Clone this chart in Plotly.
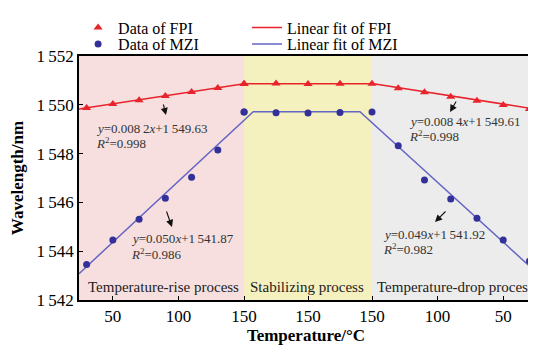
import plotly.graph_objects as go

# ---------------- data ----------------
rise_T = [30, 50, 70, 90, 110, 130, 150]
stab_k = [0, 1, 2, 3, 4]               # stabilizing samples (all at 150 °C)
drop_T = [130, 110, 90, 70, 50, 30]

fpi_rise = [1549.87, 1550.03, 1550.19, 1550.36, 1550.52, 1550.69, 1550.85]
fpi_stab = [1550.86, 1550.87, 1550.85, 1550.86, 1550.86]
fpi_drop = [1550.68, 1550.51, 1550.33, 1550.17, 1549.99, 1549.83]

mzi_rise = [1543.46, 1544.46, 1545.31, 1546.17, 1547.03, 1548.15, 1549.70]
mzi_stab = [1549.70, 1549.67, 1549.66, 1549.68, 1549.71]
mzi_drop = [1548.32, 1546.92, 1546.14, 1545.35, 1544.46, 1543.60]

# linear fits (slope, intercept) and plateau levels
fpi_rise_fit = (0.0082, 1549.63)
fpi_drop_fit = (0.0084, 1549.61)
mzi_rise_fit = (0.050, 1541.87)
mzi_drop_fit = (0.049, 1541.92)
fpi_plateau = 1550.86
mzi_plateau = 1549.72

x_tick_labels = ["50", "100", "150", "150", "150", "100", "50"]
y_ticks = [1542, 1544, 1546, 1548, 1550, 1552]
y_tick_labels = ["1\u2009542", "1\u2009544", "1\u2009546", "1\u2009548", "1\u2009550", "1\u2009552"]

# ---------------- axis mapping (three process stages on one axis) ----------------
STAB_W = 97.5
X_MIN_T, X_MAX_T = 24.2, 27.3      # temperature at left / right plot edges
def u_rise(T): return T
def u_stab(k): return 150 + k * STAB_W / 4
def u_drop(T): return 150 + STAB_W + (150 - T)
x_lo, x_hi = u_rise(X_MIN_T), u_drop(X_MAX_T)

fpi_x = [u_rise(t) for t in rise_T] + [u_stab(k) for k in stab_k] + [u_drop(t) for t in drop_T]
fpi_y = fpi_rise + fpi_stab + fpi_drop
mzi_x = [u_rise(t) for t in rise_T] + [u_stab(k) for k in stab_k] + [u_drop(t) for t in drop_T]
mzi_y = mzi_rise + mzi_stab + mzi_drop

def fit_line(rfit, dfit, plateau):
    a1, b1 = rfit
    a2, b2 = dfit
    t1 = (plateau - b1) / a1
    t2 = (plateau - b2) / a2
    xs = [u_rise(X_MIN_T), u_rise(t1), u_drop(t2), u_drop(X_MAX_T)]
    ys = [a1 * X_MIN_T + b1, plateau, plateau, a2 * X_MAX_T + b2]
    return xs, ys

fpi_fx, fpi_fy = fit_line(fpi_rise_fit, fpi_drop_fit, fpi_plateau)
mzi_fx, mzi_fy = fit_line(mzi_rise_fit, mzi_drop_fit, mzi_plateau)

RED = "#e8232b"
BLUE_PT = "#33309a"
BLUE_LN = "#6565c4"
FONT = "Liberation Serif"

fig = go.Figure()
fig.add_trace(go.Scatter(x=fpi_fx, y=fpi_fy, mode="lines", name="Linear fit of FPI",
                         line=dict(color=RED, width=1.5), legend="legend3"))
fig.add_trace(go.Scatter(x=mzi_fx, y=mzi_fy, mode="lines", name="Linear fit of MZI",
                         line=dict(color=BLUE_LN, width=1.5), legend="legend4"))
fig.add_trace(go.Scatter(x=fpi_x, y=fpi_y, mode="markers", name="Data of FPI",
                         marker=dict(symbol="triangle-up", size=8, color=RED),
                         legend="legend"))
fig.add_trace(go.Scatter(x=mzi_x, y=mzi_y, mode="markers", name="Data of MZI",
                         marker=dict(symbol="circle", size=7, color=BLUE_PT),
                         legend="legend2"))

# background stage regions
regions = [(x_lo, u_rise(150), "#f7dfdf"), (u_rise(150), u_drop(150), "#f4f1bf"),
           (u_drop(150), x_hi, "#ececec")]
shapes = [dict(type="rect", xref="x", yref="paper", x0=a, x1=b, y0=0, y1=1,
               fillcolor=c, line=dict(width=0), layer="below") for a, b, c in regions]
fig.update_layout(shapes=shapes)

L, R, T, B = 79, 533, 56, 300   # target plot area in window pixels
PW = float(R - L)
PH = float(B - T)
def px(xp): return (xp - L) / PW
def py(yp): return (B - yp) / PH

ann = []
def txt(s, xp, yp, size=13, anchor="left", color="#333333"):
    ann.append(dict(text=s, x=px(xp), y=py(yp), xref="paper", yref="paper",
                    xanchor=anchor, yanchor="middle", showarrow=False,
                    font=dict(family=FONT, size=size, color=color)))

def arrow(hx, hy, tx, ty):
    ann.append(dict(text="", x=px(hx), y=py(hy), xref="paper", yref="paper",
                    ax=tx - hx, ay=ty - hy, showarrow=True, arrowhead=2,
                    arrowsize=1.3, arrowwidth=1.1, arrowcolor="#111111"))

txt("<i>y</i>=0.008\u20092<i>x</i>+1\u2009549.63", 94, 128)
txt("<i>R</i><sup>2</sup>=0.998", 94, 143)
txt("<i>y</i>=0.050<i>x</i>+1\u2009541.87", 129, 238)
txt("<i>R</i><sup>2</sup>=0.986", 129, 254)
txt("<i>y</i>=0.008\u20094<i>x</i>+1\u2009549.61", 407, 122)
txt("<i>R</i><sup>2</sup>=0.998", 407, 136)
txt("<i>y</i>=0.049<i>x</i>+1\u2009541.92", 381, 234)
txt("<i>R</i><sup>2</sup>=0.982", 381, 249)

arrow(166, 115, 163, 103)
arrow(172, 227, 166, 210)
arrow(450, 112, 457, 100)
arrow(435, 222, 447, 210)

txt("Temperature-rise process", 163, 287, size=15, anchor="center", color="#222222")
txt("Stabilizing process", 307, 287, size=15, anchor="center", color="#222222")
txt("Temperature-drop process", 455, 287, size=15, anchor="center", color="#222222")

fig.update_layout(annotations=ann)

fig.update_xaxes(range=[x_lo, x_hi],
                 tickvals=[u_rise(50), u_rise(100), u_rise(150), u_stab(2), u_drop(150),
                           u_drop(100), u_drop(50)],
                 ticktext=x_tick_labels, ticks="inside", ticklen=4, tickwidth=1.2,
                 tickcolor="black", showline=True, linecolor="black", linewidth=1.5,
                 mirror=True, showgrid=False, zeroline=False, automargin=False,
                 tickfont=dict(family=FONT, size=17, color="black"),
                 title=dict(text="<b>Temperature/°C</b>", standoff=4,
                            font=dict(family=FONT, size=17, color="black")))
fig.update_yaxes(range=[1542, 1552], tickvals=y_ticks, ticktext=y_tick_labels,
                 ticks="inside", ticklen=4, tickwidth=1.2, tickcolor="black",
                 showline=True, linecolor="black", linewidth=1.5, mirror=True,
                 showgrid=False, zeroline=False, automargin=False,
                 tickfont=dict(family=FONT, size=17, color="black"),
                 title=dict(text="<b>Wavelength/nm</b>", standoff=12,
                            font=dict(family=FONT, size=17, color="black")))

def leg(x, y):
    return dict(orientation="v", x=x, y=y, xanchor="left", yanchor="top",
                itemwidth=30, font=dict(family=FONT, size=16, color="black"),
                bgcolor="rgba(0,0,0,0)")

# the page body has an 8px margin: the 528x339 figure fills the rest of the
# 536x347 window and the margins put the plot area at (79,56)-(533,300)
fig.update_layout(
    width=528, height=339,
    margin=dict(l=71, r=3, t=48, b=47, autoexpand=False),
    paper_bgcolor="white", plot_bgcolor="white",
    showlegend=True,
    legend=leg(-0.002, 1.186),
    legend2=leg(-0.002, 1.118),
    legend3=leg(0.37, 1.186),
    legend4=leg(0.37, 1.118),
)

fig.write_html("out.html")
